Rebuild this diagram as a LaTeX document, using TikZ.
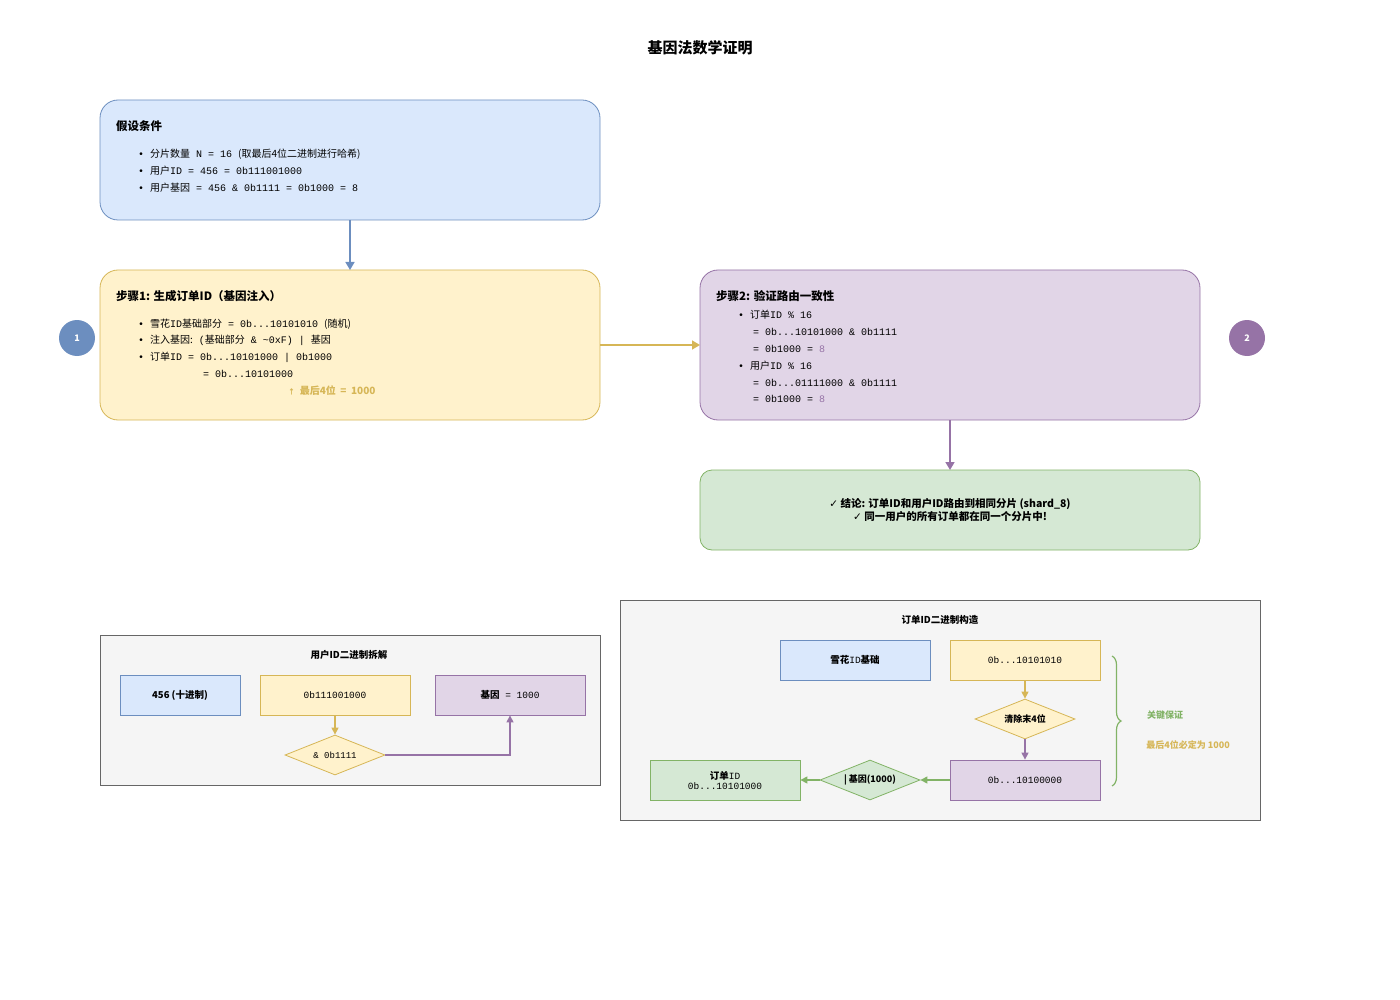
\documentclass[tikz,border=0pt]{standalone}
\usepackage{fontspec}
\setmainfont{Noto Sans CJK SC}
\setmonofont{Liberation Mono}
\newfontfamily\dejavu{DejaVu Sans}
\usetikzlibrary{arrows.meta,shapes.geometric,decorations.pathreplacing}
\newcommand\zh[1]{{\rmfamily #1}}
\definecolor{bF}{HTML}{DAE8FC}\definecolor{bS}{HTML}{6C8EBF}
\definecolor{yF}{HTML}{FFF2CC}\definecolor{yS}{HTML}{D6B656}
\definecolor{pF}{HTML}{E1D5E7}\definecolor{pS}{HTML}{9673A6}
\definecolor{gF}{HTML}{D5E8D4}\definecolor{gS}{HTML}{82B366}
\definecolor{cF}{HTML}{F5F5F5}\definecolor{cS}{HTML}{666666}
\begin{document}
\begin{tikzpicture}[x=1pt,y=-1pt,
  big/.style={draw,rounded corners=18pt,line width=0.8pt},
  sq/.style={draw,line width=0.8pt},
  ln/.style={anchor=west,inner sep=0,font=\fontsize{10}{12}\selectfont\ttfamily},
  hd/.style={anchor=west,inner sep=0,font=\fontsize{11.5}{13}\selectfont\bfseries},
  lab/.style={inner sep=0,font=\fontsize{9.5}{11}\selectfont},
  arr/.style={-{Triangle[length=8pt,width=9pt]},line width=1.6pt},
  sarr/.style={-{Triangle[length=7pt,width=7pt]},line width=1.3pt},
  dia/.style={diamond,aspect=2.5,draw,line width=0.8pt,minimum width=100pt,minimum height=40pt,inner sep=0}]
\useasboundingbox (0,0) rectangle (1400,1000);
\node[font=\fontsize{15}{17}\selectfont\bfseries] (title) at (700,48) {基因法数学证明};
% top boxes
\draw[big,fill=bF,draw=bS] (100,100) rectangle (600,220);
\node (A) at (350,160) {};
\node[hd] at (116,126) {假设条件};
\node[ln] at (138,154) {• \zh{分片数量} N = 16 \zh{(取最后4位二进制进行哈希)}};
\node[ln] at (138,171) {• \zh{用户}ID = 456 = 0b111001000};
\node[ln] at (138,188) {• \zh{用户基因} = 456 \& 0b1111 = 0b1000 = 8};
\draw[big,fill=yF,draw=yS] (100,270) rectangle (600,420);
\node[hd] at (116,296) {步骤1: 生成订单ID（基因注入）};
\node[ln] at (138,324) {• \zh{雪花}ID\zh{基础部分} = 0b...10101010 \zh{(随机)}};
\node[ln] at (138,340) {• \zh{注入基因:} (\zh{基础部分} \& \textasciitilde0xF) | \zh{基因}};
\node[ln] at (138,357) {• \zh{订单}ID = 0b...10101000 | 0b1000};
\node[ln] at (203,374) {= 0b...10101000};
\node[ln,text=yS,font=\fontsize{10}{12}\selectfont\bfseries] at (288,391) {\fontsize{7}{8}\selectfont↑\fontsize{10}{12}\selectfont\ \ 最后4位 \ = \ 1000};
\draw[big,fill=pF,draw=pS] (700,270) rectangle (1200,420);
\node[hd] at (716,296) {步骤2: 验证路由一致性};
\node[ln] at (738,315) {• \zh{订单}ID \% 16};
\node[ln] at (753,332) {= 0b...10101000 \& 0b1111};
\node[ln] at (753,349) {= 0b1000 = \textcolor{pS}{8}};
\node[ln] at (738,366) {• \zh{用户}ID \% 16};
\node[ln] at (753,383) {= 0b...01111000 \& 0b1111};
\node[ln] at (753,399) {= 0b1000 = \textcolor{pS}{8}};
\draw[big,rounded corners=12pt,fill=gF,draw=gS] (700,470) rectangle (1200,550);
\node[lab,font=\fontsize{10.5}{13}\selectfont\bfseries,align=center] at (950,510) {{\dejavu ✓} 结论: 订单ID和用户ID路由到相同分片 (shard\_8)\\{\dejavu ✓} 同一用户的所有订单都在同一个分片中!};
\node[circle,fill=bS,minimum size=36pt,inner sep=0,text=white,font=\bfseries\small] (c1) at (77,338) {1};
\node[circle,fill=pS,minimum size=36pt,inner sep=0,text=white,font=\bfseries\small] (c2) at (1247,338) {2};
\draw[arr,bS] (350,220) -- (350,270);
\draw[arr,yS] (600,345) -- (700,345);
\draw[arr,pS] (950,420) -- (950,470);
% bottom left
\draw[sq,fill=cF,draw=cS] (100,635) rectangle (600,785);
\node[lab,font=\fontsize{9.5}{11}\selectfont\bfseries] at (349,655) {用户ID二进制拆解};
\node[sq,fill=bF,draw=bS,minimum width=120pt,minimum height=40pt,font=\fontsize{9.5}{11}\selectfont\bfseries] (u1) at (180,695) {456 (十进制)};
\node[sq,fill=yF,draw=yS,minimum width=150pt,minimum height=40pt,font=\fontsize{9.5}{11}\selectfont\ttfamily] (u2) at (335,695) {0b111001000};
\node[sq,fill=pF,draw=pS,minimum width=150pt,minimum height=40pt,font=\fontsize{9.5}{11}\selectfont\ttfamily] (u3) at (510,695) {\zh{\bfseries 基因} = 1000};
\node[dia,fill=yF,draw=yS,font=\fontsize{9}{11}\selectfont\ttfamily] (ud) at (335,755) {\& 0b1111};
\draw[sarr,yS] (u2) -- (ud);
\draw[sarr,pS] (ud.east) -- (510,755) -- (u3.south);
% bottom right
\draw[sq,fill=cF,draw=cS] (620,600) rectangle (1260,820);
\node[lab,font=\fontsize{9.5}{11}\selectfont\bfseries] at (940,620) {订单ID二进制构造};
\node[sq,fill=bF,draw=bS,minimum width=150pt,minimum height=40pt,font=\fontsize{9.5}{11}\selectfont\bfseries] (o1) at (855,660) {雪花{\mdseries\ttfamily ID}基础};
\node[sq,fill=yF,draw=yS,minimum width=150pt,minimum height=40pt,font=\fontsize{9.5}{11}\selectfont\ttfamily] (o2) at (1025,660) {0b...10101010};
\node[dia,fill=yF,draw=yS,font=\fontsize{9}{11}\selectfont\bfseries] (od) at (1025,719) {清除末4位};
\node[sq,fill=pF,draw=pS,minimum width=150pt,minimum height=40pt,font=\fontsize{9.5}{11}\selectfont\ttfamily] (o3) at (1025,780) {0b...10100000};
\node[dia,fill=gF,draw=gS,font=\fontsize{9}{11}\selectfont\bfseries] (gd) at (870,780) {|\ 基因(1000)};
\node[sq,fill=gF,draw=gS,minimum width=150pt,minimum height=40pt,font=\fontsize{9.5}{11}\selectfont\ttfamily,align=center] (o4) at (725,780) {\zh{\bfseries 订单}ID\\[-1pt]0b...10101000};
\draw[sarr,yS] (o2) -- (od);
\draw[sarr,pS] (od) -- (o3);
\draw[sarr,gS] (o3) -- (gd);
\draw[sarr,gS] (gd) -- (o4);
\draw[gS,line width=1.2pt,decorate,decoration={brace,amplitude=9pt}] (1112,656) -- (1112,786);
\node[lab,text=gS,font=\fontsize{9}{11}\selectfont\bfseries] (k1) at (1165,715) {关键保证};
\node[lab,text=yS,font=\fontsize{9}{11}\selectfont\bfseries] (k2) at (1188,745) {最后4位必定为 1000};
\end{tikzpicture}
\end{document}
